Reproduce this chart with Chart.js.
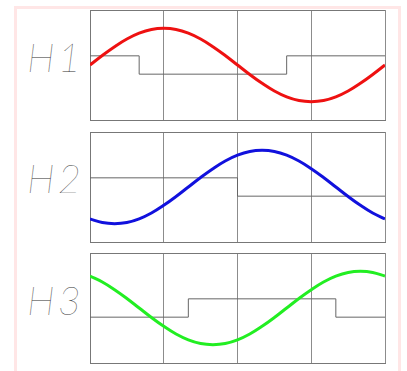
<!DOCTYPE html>
<html>
<head>
<meta charset="utf-8">
<script src="https://cdn.jsdelivr.net/npm/chart.js@4"></script>
<style>
  body { margin: 0; background: #fff; width: 407px; height: 371px; overflow: hidden; position: relative; }
  #frame { position: absolute; left: 14px; top: 6px; width: 381px; height: 380px; border: 3px solid #ffe6e6; }
  .lbl { position: absolute; left: 27px; font-family: "Lato", "Roboto", sans-serif; font-weight: 100; font-style: italic;
         font-size: 40px; line-height: 40px; color: #333; letter-spacing: 3px; }
  canvas { position: absolute; left: 89px; }
</style>
</head>
<body>
<div id="frame"></div>
<div class="lbl" style="top:37px">H1</div>
<div class="lbl" style="top:158px">H2</div>
<div class="lbl" style="top:280px">H3</div>
<canvas id="h1" width="297" height="112" style="top:9px"></canvas>
<canvas id="h2" width="297" height="112" style="top:131px"></canvas>
<canvas id="h3" width="297" height="112" style="top:252px"></canvas>
<script>
// angle in degrees, one sample every 15 deg
var angles = [0,15,30,45,60,75,90,105,120,135,150,165,180,195,210,225,240,255,270,285,300,315,330,345,360];

var h1_curve = [0,0.26,0.5,0.71,0.87,0.97,1,0.97,0.87,0.71,0.5,0.26,0,-0.26,-0.5,-0.71,-0.87,-0.97,-1,-0.97,-0.87,-0.71,-0.5,-0.26,0];
var h2_curve = [-0.87,-0.97,-1,-0.97,-0.87,-0.71,-0.5,-0.26,0,0.26,0.5,0.71,0.87,0.97,1,0.97,0.87,0.71,0.5,0.26,0,-0.26,-0.5,-0.71,-0.87];
var h3_curve = [0.87,0.71,0.5,0.26,0,-0.26,-0.5,-0.71,-0.87,-0.97,-1,-0.97,-0.87,-0.71,-0.5,-0.26,0,0.26,0.5,0.71,0.87,0.97,1,0.97,0.87];

// step lines: switching angles and levels
var h1_step_x = [0,60,240,360];
var h1_step_y = [0.25,-0.25,0.25,0.25];
var h2_step_x = [0,180,360];
var h2_step_y = [0.25,-0.25,-0.25];
var h3_step_x = [0,120,300,360];
var h3_step_y = [-0.25,0.25,-0.25,-0.25];

function pts(xs, ys) {
  return xs.map(function (x, i) { return { x: x, y: ys[i] }; });
}

function makeChart(id, curve, color, stepX, stepY) {
  return new Chart(document.getElementById(id), {
    type: 'line',
    data: {
      datasets: [
        {
          data: pts(angles, curve),
          borderColor: color,
          borderWidth: 3,
          tension: 0.4,
          pointRadius: 0,
        },
        {
          data: pts(stepX, stepY),
          borderColor: '#666',
          borderWidth: 1,
          stepped: 'before',
          pointRadius: 0,
        },
      ],
    },
    options: {
      responsive: false,
      animation: false,
      layout: { padding: 1 },
      plugins: { legend: { display: false }, tooltip: { enabled: false } },
      scales: {
        x: {
          type: 'linear', min: 0, max: 360,
          ticks: { display: false, stepSize: 90 },
          grid: { color: '#8c8c8c', drawTicks: false },
          border: { color: '#777' },
        },
        y: {
          min: -1.5, max: 1.5,
          afterBuildTicks: function (axis) { axis.ticks = [{ value: -1.5 }, { value: 1.5 }]; },
          ticks: { display: false },
          grid: { color: '#777', drawTicks: false },
          border: { color: '#777' },
        },
      },
    },
  });
}

makeChart('h1', h1_curve, '#ee1111', h1_step_x, h1_step_y);
makeChart('h2', h2_curve, '#1111dd', h2_step_x, h2_step_y);
makeChart('h3', h3_curve, '#22ee22', h3_step_x, h3_step_y);
</script>
</body>
</html>
